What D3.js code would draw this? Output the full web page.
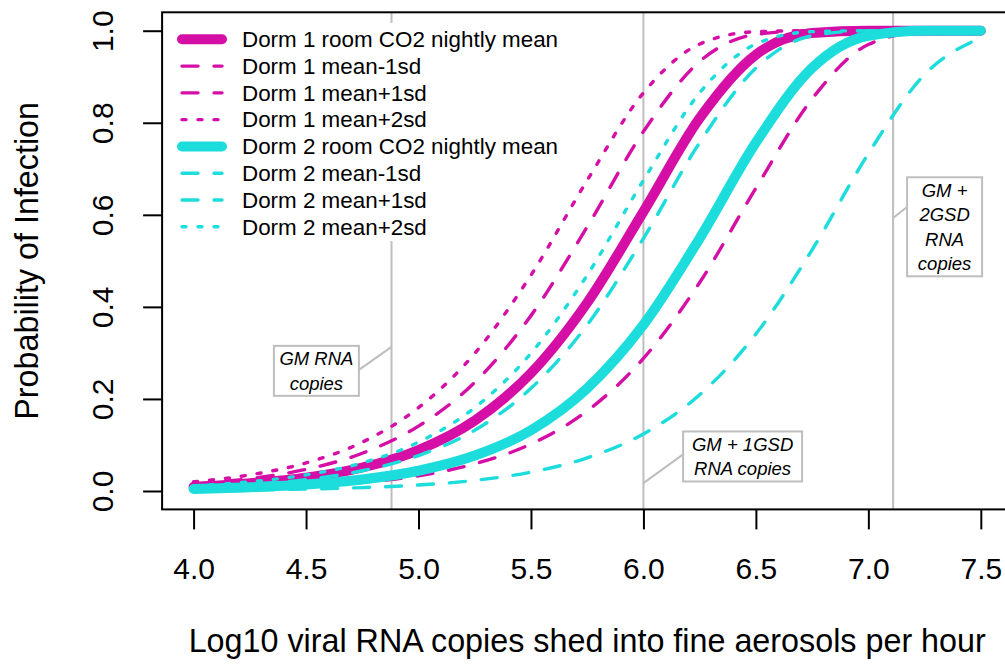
<!DOCTYPE html>
<html>
<head>
<meta charset="utf-8">
<script src="https://cdn.jsdelivr.net/npm/d3@7"></script>
<style>
  html, body { margin: 0; padding: 0; background: #ffffff; }
  svg { display: block; }
  text { font-family: "Liberation Sans", Arial, Helvetica, sans-serif; fill: #000; }
</style>
</head>
<body>
<script>
// ---------------- data ----------------
const xValues = [4.0, 4.25, 4.5, 4.75, 5.0, 5.25, 5.5, 5.75, 6.0, 6.25, 6.5, 6.75, 7.0, 7.25, 7.5];

const dorm1Mean   = [0.009, 0.017, 0.029, 0.051, 0.089, 0.153, 0.256, 0.409, 0.607, 0.810, 0.948, 0.995, 1.0, 1.0, 1.0];
const dorm1Minus1 = [0.003, 0.006, 0.011, 0.019, 0.033, 0.059, 0.102, 0.174, 0.288, 0.453, 0.658, 0.852, 0.970, 0.998, 1.0];
const dorm1Plus1  = [0.015, 0.027, 0.047, 0.082, 0.141, 0.236, 0.381, 0.574, 0.781, 0.933, 0.992, 1.0, 1.0, 1.0, 1.0];
const dorm1Plus2  = [0.020, 0.035, 0.061, 0.106, 0.181, 0.299, 0.469, 0.675, 0.865, 0.971, 0.998, 1.0, 1.0, 1.0, 1.0];

const dorm2Mean   = [0.0045, 0.008, 0.014, 0.025, 0.044, 0.077, 0.132, 0.223, 0.361, 0.549, 0.757, 0.919, 0.989, 1.0, 1.0];
const dorm2Minus1 = [0.0013, 0.0023, 0.0042, 0.0074, 0.013, 0.023, 0.041, 0.072, 0.124, 0.209, 0.341, 0.524, 0.733, 0.905, 0.985];
const dorm2Plus1  = [0.008, 0.014, 0.025, 0.044, 0.077, 0.132, 0.223, 0.361, 0.549, 0.757, 0.919, 0.989, 1.0, 1.0, 1.0];
const dorm2Plus2  = [0.011, 0.020, 0.035, 0.061, 0.106, 0.181, 0.299, 0.469, 0.675, 0.865, 0.971, 0.998, 1.0, 1.0, 1.0];

const seriesNames = [
  "Dorm 1 room CO2 nightly mean", "Dorm 1 mean-1sd", "Dorm 1 mean+1sd", "Dorm 1 mean+2sd",
  "Dorm 2 room CO2 nightly mean", "Dorm 2 mean-1sd", "Dorm 2 mean+1sd", "Dorm 2 mean+2sd"
];
const seriesValues = [dorm1Mean, dorm1Minus1, dorm1Plus1, dorm1Plus2, dorm2Mean, dorm2Minus1, dorm2Plus1, dorm2Plus2];
const seriesKinds  = ["solid", "dashed", "dashed", "dotted", "solid", "dashed", "dashed", "dotted"];
const seriesDorm   = [1, 1, 1, 1, 2, 2, 2, 2];

const xTicks = [4.0, 4.5, 5.0, 5.5, 6.0, 6.5, 7.0, 7.5];
const yTicks = [0.0, 0.2, 0.4, 0.6, 0.8, 1.0];

const gmValues = [4.88, 6.0, 7.11];
const gmLabels = [["GM RNA", "copies"], ["GM + 1GSD", "RNA copies"], ["GM +", "2GSD", "RNA", "copies"]];
// label box centres and connector starts, in data units
const gmLabelX = [4.546, 6.441, 7.339];
const gmLabelY = [0.261, 0.075, 0.574];
const gmLinkFromX = [4.735, 6.178, 7.172];
const gmLinkFromY = [0.263, 0.080, 0.617];
const gmLinkToY = [0.313, 0.017, 0.593];

const xTitle = "Log10 viral RNA copies shed into fine aerosols per hour";
const yTitle = "Probability of Infection";

// ---------------- styling ----------------
const W = 1005, H = 666;
const colors = { 1: "#d50fa6", 2: "#1cdcdc" };
const styles = {
  solid:  { width: 10,  dash: null },
  dashed: { width: 3.4, dash: "16,16" },
  dotted: { width: 3.4, dash: "4,12" }
};
const grey = "#bebebe";

const svg = d3.select("body").append("svg").attr("width", W).attr("height", H);
svg.append("rect").attr("width", W).attr("height", H).attr("fill", "#fff");

const x = d3.scaleLinear().domain([3.86, 7.64]).range([162.1, 1012.3]);
const y = d3.scaleLinear().domain([-0.04, 1.04]).range([509.4, 12.3]);

// GM reference lines
svg.append("g").selectAll("line").data(gmValues).join("line")
  .attr("x1", d => x(d)).attr("x2", d => x(d))
  .attr("y1", y(1.04)).attr("y2", y(-0.04))
  .attr("stroke", grey).attr("stroke-width", 2);

// legend background (covers reference lines)
svg.append("rect").attr("x", 166).attr("y", 23).attr("width", 388).attr("height", 218).attr("fill", "#fff");

// curves
const line = d3.line().x((d, i) => x(xValues[i])).y(d => y(d)).curve(d3.curveMonotoneX);
const curveG = svg.append("g").attr("fill", "none").attr("stroke-linecap", "round").attr("stroke-linejoin", "round");
seriesValues.forEach((vals, i) => {
  const st = styles[seriesKinds[i]];
  curveG.append("path")
    .attr("d", line(vals))
    .attr("stroke", colors[seriesDorm[i]])
    .attr("stroke-width", st.width)
    .attr("stroke-dasharray", st.dash);
});

// annotation boxes
const annG = svg.append("g");
const boxW = [85, 119, 75];
const lineH = 24.5;
gmLabels.forEach((lines, i) => {
  const cx = x(gmLabelX[i]), cy = y(gmLabelY[i]);
  const h = lines.length * lineH + 1;
  annG.append("line")
    .attr("x1", x(gmLinkFromX[i])).attr("y1", y(gmLinkFromY[i]))
    .attr("x2", x(gmValues[i])).attr("y2", y(gmLinkToY[i]))
    .attr("stroke", grey).attr("stroke-width", 2);
  annG.append("rect")
    .attr("x", cx - boxW[i] / 2).attr("y", cy - h / 2)
    .attr("width", boxW[i]).attr("height", h)
    .attr("fill", "#fff").attr("stroke", grey).attr("stroke-width", 2);
  lines.forEach((t, j) => {
    annG.append("text")
      .attr("x", cx)
      .attr("y", cy - h / 2 + lineH * (j + 0.5) + 0.5)
      .attr("dy", "0.35em")
      .attr("text-anchor", "middle")
      .attr("font-style", "italic")
      .attr("font-size", 18.5)
      .text(t);
  });
});

// plot box
svg.append("rect")
  .attr("x", x(3.86)).attr("y", y(1.04))
  .attr("width", x(7.64) - x(3.86)).attr("height", y(-0.04) - y(1.04))
  .attr("fill", "none").attr("stroke", "#000").attr("stroke-width", 2);

// x axis
const xAxis = d3.axisBottom(x).tickValues(xTicks).tickFormat(d3.format(".1f")).tickSize(20).tickSizeOuter(0);
const gx = svg.append("g").attr("transform", `translate(0,${y(-0.04)})`).call(xAxis);
gx.select(".domain").remove();
gx.selectAll(".tick line").attr("stroke", "#000").attr("stroke-width", 2);
gx.selectAll(".tick text").attr("y", 69.6).attr("dy", 0)
  .attr("font-size", 30).attr("font-family", "Liberation Sans, Arial, sans-serif").attr("fill", "#000");

// y axis
const yAxis = d3.axisLeft(y).tickValues(yTicks).tickFormat(d3.format(".1f")).tickSize(19).tickSizeOuter(0);
const gy = svg.append("g").attr("transform", `translate(${x(3.86)},0)`).call(yAxis);
gy.select(".domain").remove();
gy.selectAll(".tick line").attr("stroke", "#000").attr("stroke-width", 2);
gy.selectAll(".tick text")
  .attr("transform", "rotate(-90)")
  .attr("x", 0).attr("y", -49).attr("dy", 0)
  .attr("text-anchor", "middle")
  .attr("font-size", 30).attr("font-family", "Liberation Sans, Arial, sans-serif").attr("fill", "#000");

// axis titles
svg.append("text")
  .attr("x", (x(3.86) + x(7.64)) / 2).attr("y", 652)
  .attr("text-anchor", "middle").attr("font-size", 32.3)
  .text(xTitle);
svg.append("text")
  .attr("transform", `translate(38,${(y(-0.04) + y(1.04)) / 2}) rotate(-90)`)
  .attr("text-anchor", "middle").attr("font-size", 32.3)
  .text(yTitle);

// legend
const legG = svg.append("g");
seriesNames.forEach((name, i) => {
  const cy = 39.3 + i * 26.78;
  const st = styles[seriesKinds[i]];
  legG.append("line")
    .attr("x1", 182).attr("x2", 222).attr("y1", cy).attr("y2", cy)
    .attr("stroke", colors[seriesDorm[i]])
    .attr("stroke-width", st.width)
    .attr("stroke-dasharray", st.dash)
    .attr("stroke-linecap", "round");
  legG.append("text")
    .attr("x", 242).attr("y", cy).attr("dy", "0.35em")
    .attr("font-size", 22.4)
    .text(name);
});
</script>
</body>
</html>
